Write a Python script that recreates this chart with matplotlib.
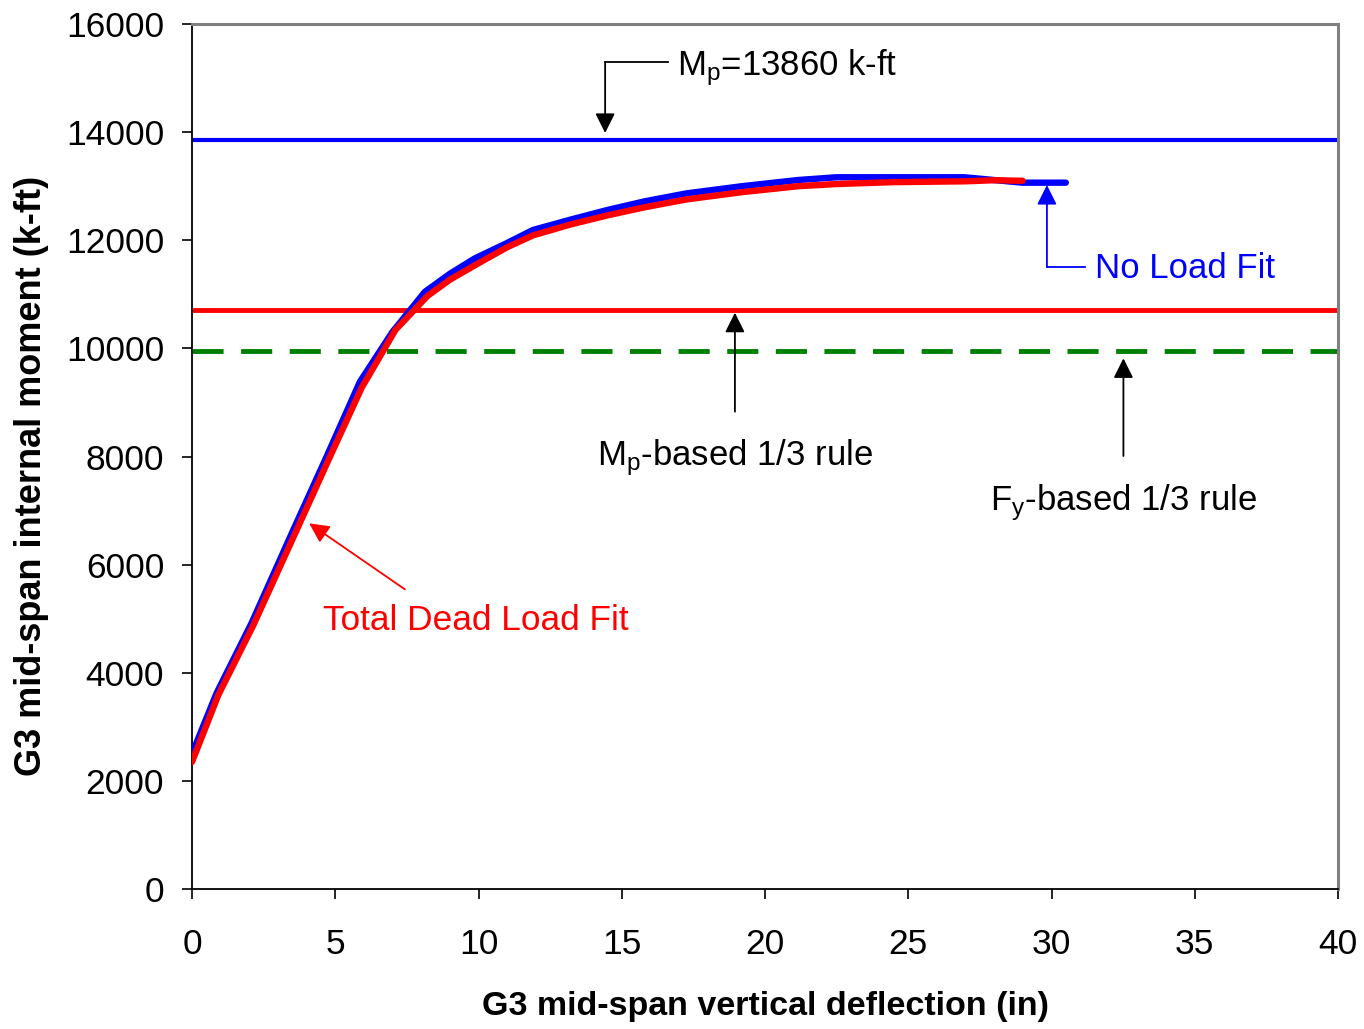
import matplotlib
matplotlib.use("Agg")
import matplotlib.pyplot as plt

plt.rcParams['font.family'] = ['Liberation Sans', 'DejaVu Sans']
plt.rcParams['mathtext.default'] = 'regular'

# ---- data ----
no_load_x = [0, 0.86, 2.08, 3.5, 4.7, 5.86, 7.0, 8.13, 9.0, 9.87, 11.0, 11.9, 13.2,
             14.5, 15.8, 17.26, 19.2, 21.17, 22.5, 24.5, 26.96, 28.99, 30.5]
no_load_y = [2500, 3625, 4920, 6600, 8000, 9382, 10307, 11047, 11380, 11664, 11950,
             12190, 12380, 12560, 12720, 12867, 13000, 13115, 13165, 13165, 13165,
             13065, 13065]
dead_x = [0, 0.92, 2.15, 3.55, 4.75, 5.92, 7.1, 8.22, 9.0, 10.05, 11.0, 11.9, 13.2,
          14.5, 15.8, 17.26, 19.2, 21.17, 22.5, 24.5, 26.96, 28.0, 28.99]
dead_y = [2350, 3590, 4890, 6520, 7920, 9270, 10340, 10970, 11270, 11590, 11870,
          12090, 12290, 12460, 12610, 12755, 12890, 13000, 13040, 13075, 13090,
          13110, 13100]
mp_value = 13860
mp_rule = 10710
fy_rule = 9950
x_ticks = [0, 5, 10, 15, 20, 25, 30, 35, 40]
y_ticks = [0, 2000, 4000, 6000, 8000, 10000, 12000, 14000, 16000]

FS_TICK = 25.5
FS_ANN = 25

fig = plt.figure(figsize=(13.64, 10.29), dpi=100)
ax = fig.add_axes([192/1364, 1-889/1029, (1338-192)/1364, (889-24)/1029])

ax.axhline(mp_value, color='#0000ff', lw=3.0, zorder=2)
ax.axhline(mp_rule, color='#ff0000', lw=3.5, zorder=2)
ax.axhline(fy_rule, color='#008000', lw=3.5, dashes=(6.4, 3.6), zorder=2)

ax.plot(no_load_x, no_load_y, color='#0000ff', lw=4.6, solid_capstyle='round',
        solid_joinstyle='round', zorder=3)
ax.plot(dead_x, dead_y, color='#ff0000', lw=4.6, solid_capstyle='round',
        solid_joinstyle='round', zorder=4)

ax.set_xlim(0, 40)
ax.set_ylim(0, 16000)
ax.set_xticks(x_ticks)
ax.set_yticks(y_ticks)
ax.set_xticklabels([str(v) for v in x_ticks])
ax.set_yticklabels([str(v) for v in y_ticks])
ax.tick_params(axis='both', direction='out', length=7, width=1.2, labelsize=FS_TICK, colors='black')
ax.tick_params(axis='y', pad=13)
ax.tick_params(axis='x', pad=21)

for s in ['left', 'bottom']:
    ax.spines[s].set_color('black')
    ax.spines[s].set_linewidth(1.3)
for s in ['top', 'right']:
    ax.spines[s].set_color('#808080')
    ax.spines[s].set_linewidth(2.2)

fig.text(766/1364, 1-1007/1029, 'G3 mid-span vertical deflection (in)', fontsize=24.5,
         fontweight='bold', ha='center', va='center')
fig.text(32/1364, 1-476/1029, 'G3 mid-span internal moment (k-ft)', fontsize=26,
         fontweight='bold', ha='center', va='center', rotation=90)

arrow_kw = dict(arrowstyle='-|>', mutation_scale=30, lw=1.3, shrinkA=0, shrinkB=0)

# Mp annotation
ax.plot([14.42, 16.61], [15297, 15297], color='black', lw=1.3, clip_on=False)
ax.annotate('', xy=(14.42, 13984), xytext=(14.42, 15297),
            arrowprops=dict(color='black', **arrow_kw))
ax.text(16.93, 15057, r'M$_{p}$=13860 k-ft', fontsize=FS_ANN, ha='left', va='baseline')

# No load fit
ax.plot([29.84, 31.17], [11511, 11511], color='#0000ff', lw=1.3)
ax.annotate('', xy=(29.84, 13022), xytext=(29.84, 11511),
            arrowprops=dict(color='#0000ff', **arrow_kw))
ax.text(31.52, 11302, 'No Load Fit', fontsize=FS_ANN, color='#0000ff', ha='left', va='baseline')

# Mp-based rule
ax.annotate('', xy=(18.95, 10660), xytext=(18.95, 8829),
            arrowprops=dict(color='black', **arrow_kw))
ax.text(18.95, 7843, r'M$_{p}$-based 1/3 rule', fontsize=FS_ANN, ha='center', va='baseline')

# Fy-based rule
ax.annotate('', xy=(32.51, 9816), xytext=(32.51, 8009),
            arrowprops=dict(color='black', **arrow_kw))
ax.text(32.51, 7010, r'F$_{y}$-based 1/3 rule', fontsize=FS_ANN, ha='center', va='baseline')

# Total dead load fit
ax.annotate('', xy=(4.09, 6764), xytext=(7.43, 5543),
            arrowprops=dict(color='#ff0000', **arrow_kw))
ax.text(4.57, 4791, 'Total Dead Load Fit', fontsize=25.4, color='#ff0000', ha='left', va='baseline')

fig.savefig('out.png', dpi=100)
